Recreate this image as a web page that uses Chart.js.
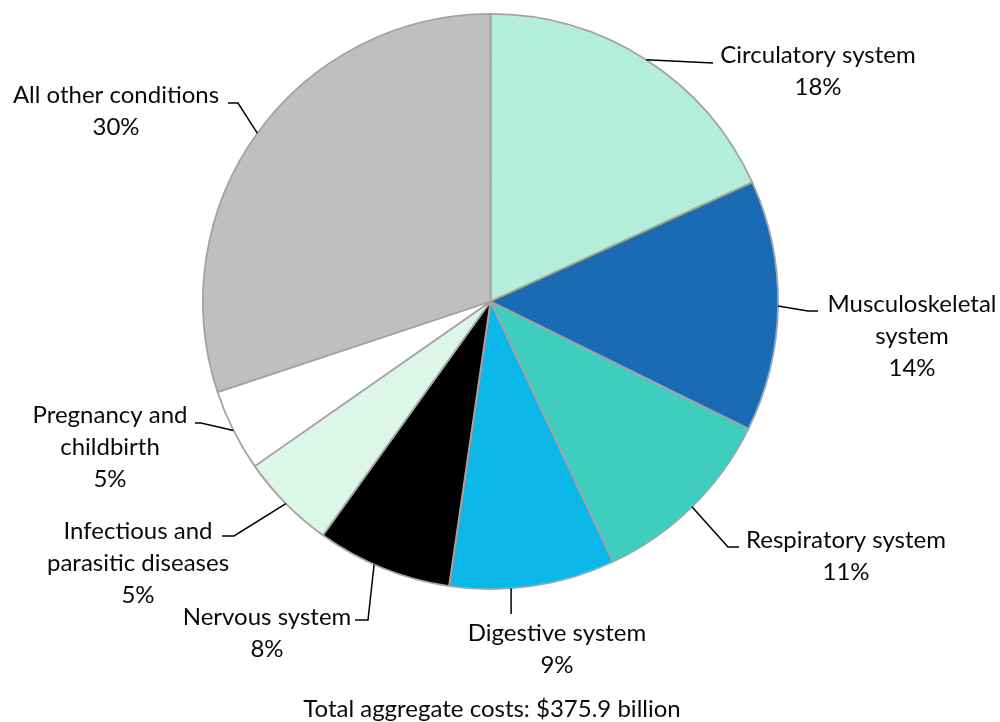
<!DOCTYPE html>
<html>
<head>
<meta charset="utf-8">
<script src="https://cdn.jsdelivr.net/npm/chart.js@4.4.1/dist/chart.umd.min.js"></script>
<style>
  html, body { margin: 0; padding: 0; background: #ffffff; }
  #wrap { width: 1000px; height: 722px; }
</style>
</head>
<body>
<div id="wrap"><canvas id="c" width="1000" height="722"></canvas></div>
<script>
// ---- Data ----
const categories = [
  'Circulatory system',
  'Musculoskeletal system',
  'Respiratory system',
  'Digestive system',
  'Nervous system',
  'Infectious and parasitic diseases',
  'Pregnancy and childbirth',
  'All other conditions'
];
const labelLines = [
  ['Circulatory system'],
  ['Musculoskeletal', 'system'],
  ['Respiratory system'],
  ['Digestive system'],
  ['Nervous system'],
  ['Infectious and', 'parasitic diseases'],
  ['Pregnancy and', 'childbirth'],
  ['All other conditions']
];
const sharePercent = [18.2, 14.1, 10.7, 9.3, 7.6, 5.4, 4.6, 30.1];
const totalCaption = 'Total aggregate costs: $375.9 billion';

// ---- Styles ----
const sliceColors = ['#B2EEDA', '#1A6AB4', '#3FCDC0', '#0CB8E8', '#000000', '#DDF6EA', '#FFFFFF', '#BFBFBF'];
const FONT = '24px Lato, "Open Sans", sans-serif';
const LINE_H = 32;

// label layout: text centre x, first baseline y, leader path (after arc attach point), attach fraction within slice
const labelLayout = [
  { x: 818, y: 63,  path: [[713, 63]], frac: 0.5 },
  { x: 912, y: 312, path: [[808, 311], [818, 311]], frac: 0.5 },
  { x: 846, y: 548, path: [[728, 547], [739, 547]], frac: 0.5 },
  { x: 557, y: 641, path: [[null, 614]], frac: 0.63 },
  { x: 267, y: 625, path: [[368, 620], [355, 620]], frac: 0.57 },
  { x: 138, y: 539, path: [[234, 536], [222, 536]], frac: 0.5 },
  { x: 110, y: 423, path: [[201, 423], [195, 423]], frac: 0.5 },
  { x: 116, y: 103, path: [[238, 103], [228, 103]], frac: 0.5 }
];

const labelPlugin = {
  id: 'labelPlugin',
  afterDraw(chart) {
    const ctx = chart.ctx;
    const meta = chart.getDatasetMeta(0);
    ctx.save();
    ctx.strokeStyle = '#000000';
    ctx.lineWidth = 1.5;
    ctx.fillStyle = '#0a0a0a';
    ctx.font = FONT;
    ctx.textAlign = 'center';
    ctx.textBaseline = 'alphabetic';
    meta.data.forEach((arc, i) => {
      const p = arc.getProps(['x', 'y', 'startAngle', 'endAngle', 'outerRadius'], true);
      const L = labelLayout[i];
      const a = p.startAngle + L.frac * (p.endAngle - p.startAngle);
      const sx = p.x + Math.cos(a) * p.outerRadius;
      const sy = p.y + Math.sin(a) * p.outerRadius;
      ctx.beginPath();
      ctx.moveTo(sx, sy);
      L.path.forEach(pt => {
        const px = pt[0] === null ? sx : pt[0];
        ctx.lineTo(px, pt[1]);
      });
      ctx.stroke();
      const lines = labelLines[i].concat([Math.round(sharePercent[i]) + '%']);
      lines.forEach((t, k) => ctx.fillText(t, L.x, L.y + k * LINE_H));
    });
    ctx.fillText(totalCaption, 492, 717);
    ctx.restore();
  }
};

new Chart(document.getElementById('c'), {
  type: 'pie',
  data: {
    labels: categories,
    datasets: [{
      data: sharePercent,
      backgroundColor: sliceColors,
      borderColor: '#A3A3A3',
      borderWidth: 1.8,
      borderAlign: 'center'
    }]
  },
  options: {
    responsive: false,
    animation: false,
    rotation: 0,
    layout: { padding: { left: 202, right: 221, top: 13, bottom: 132 } },
    plugins: { legend: { display: false }, tooltip: { enabled: false } }
  },
  plugins: [labelPlugin]
});
</script>
</body>
</html>
